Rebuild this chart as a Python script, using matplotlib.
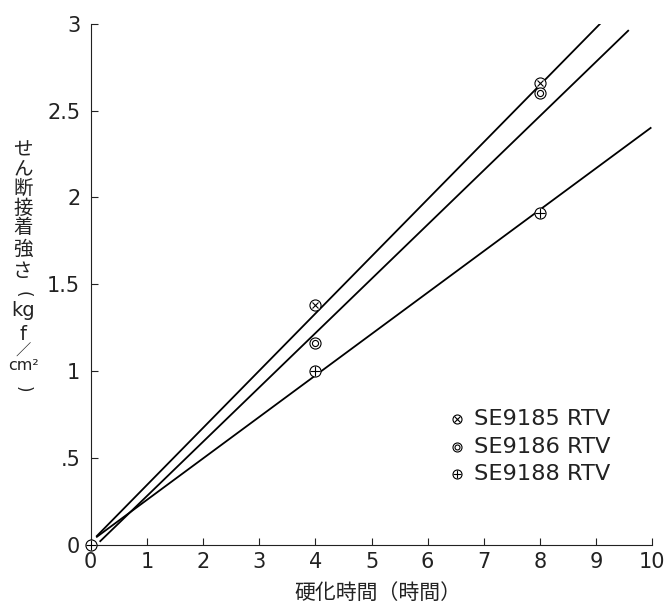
import matplotlib
matplotlib.use("Agg")
import matplotlib.pyplot as plt

plt.rcParams["font.family"] = ["DejaVu Sans", "Noto Sans CJK JP"]
JP = ["Noto Sans CJK JP", "DejaVu Sans"]

# measured shear bond strength vs cure time
hours_9185 = [4, 8]
strength_9185 = [1.38, 2.66]
hours_9186 = [4, 8]
strength_9186 = [1.16, 2.60]
hours_9188 = [0, 4, 8]
strength_9188 = [0.0, 1.00, 1.91]

# fitted straight lines (end points)
fit_9185_x = [0.11, 9.07]
fit_9185_y = [0.05, 3.00]
fit_9186_x = [0.17, 9.57]
fit_9186_y = [0.02, 2.96]
fit_9188_x = [0.11, 9.97]
fit_9188_y = [0.045, 2.40]

names = ["SE9185 RTV", "SE9186 RTV", "SE9188 RTV"]
kinds = ["cross", "double", "plus"]

x_ticks = list(range(0, 11))
y_ticks = [0, 0.5, 1, 1.5, 2, 2.5, 3]
y_tick_labels = ["0", ".5", "1", "1.5", "2", "2.5", "3"]

# vertical axis title, one piece per row
ylabel_parts = ["せ", "ん", "断", "接", "着", "強", "さ", "(", "kg", "f", "／", "cm²", ")"]
ylabel_pos = [150, 169, 188, 208, 228, 249, 272, 294, 310, 334, 351, 366, 389]


def draw_marker(ax, x, y, kind, size, **kw):
    common = dict(linestyle="none", color="black", clip_on=False, zorder=5, **kw)
    ax.plot(x, y, marker="o", ms=size, mfc="white", mec="black", mew=0.8, **common)
    if kind == "cross":
        ax.plot(x, y, marker="x", ms=size * 0.62, mew=0.8, **common)
    elif kind == "plus":
        ax.plot(x, y, marker="+", ms=size * 0.95, mew=0.8, **common)
    elif kind == "double":
        ax.plot(x, y, marker="o", ms=size * 0.55, mfc="none", mec="black", mew=0.8, **common)


fig = plt.figure(figsize=(6.7, 6.05), dpi=100)
ax = fig.add_axes([0.1354, 0.0998, 0.8382, 0.8609])

for fx, fy in [(fit_9185_x, fit_9185_y), (fit_9186_x, fit_9186_y), (fit_9188_x, fit_9188_y)]:
    ax.plot(fx, fy, color="black", lw=1.3, zorder=3)

draw_marker(ax, hours_9185, strength_9185, "cross", 8)
draw_marker(ax, hours_9186, strength_9186, "double", 8)
draw_marker(ax, hours_9188, strength_9188, "plus", 8)

ax.set_xlim(0, 10)
ax.set_ylim(0, 3)
ax.set_xticks(x_ticks)
ax.set_yticks(y_ticks)
ax.set_yticklabels(y_tick_labels)
for side in ["top", "right"]:
    ax.spines[side].set_visible(False)
for side in ["left", "bottom"]:
    ax.spines[side].set_linewidth(0.8)
    ax.spines[side].set_color("#222222")
ax.tick_params(direction="in", length=5, width=0.8, labelsize=15, colors="#222222")
ax.tick_params(axis="y", pad=7.5)
ax.tick_params(axis="x", pad=5)

# legend drawn by hand
for i, (name, kind) in enumerate(zip(names, kinds)):
    ly = 1 - (419 + 27.5 * i - 23.8) / 520.8
    draw_marker(ax, [(456.7 - 90.7) / 561.6], [ly], kind, 6.5, transform=ax.transAxes)
    ax.text((474 - 90.7) / 561.6, ly, name, transform=ax.transAxes,
            fontsize=16.2, va="center", ha="left", color="#222222")

fig.text(378 / 670, 1 - 593 / 605, "硬化時間（時間）", fontsize=15, family=JP,
         ha="center", va="center", color="#222222")
for part, py in zip(ylabel_parts, ylabel_pos):
    fs = {"cm²": 11.5, "／": 11, "(": 12, ")": 12}.get(part, 14)
    rot = -90 if part in ("(", ")") else 0
    fam = ["DejaVu Sans"] if part in ("(", ")", "cm²", "kg", "f") else JP
    fig.text(23 / 670, 1 - py / 605, part, fontsize=fs, family=fam, rotation=rot,
             ha="center", va="center", color="#222222")

fig.savefig("out.png", dpi=100, facecolor="white")
